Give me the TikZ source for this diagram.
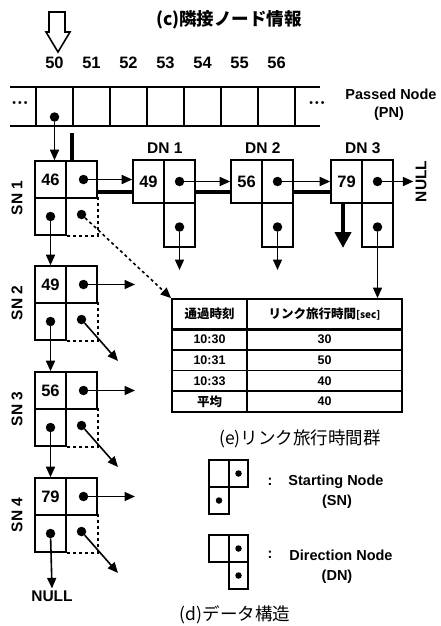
\documentclass[tikz,border=0pt]{standalone}
\usepackage{fontspec}
\setmainfont{Liberation Sans}
\newfontfamily\jpfont{Noto Sans CJK JP}
\usetikzlibrary{arrows.meta,positioning,calc}
\newcommand\lblfont{\fontsize{15.5}{17}\selectfont\bfseries}
\newcommand\numfont{\fontsize{16.5}{18}\selectfont\bfseries}
\newcommand\legfont{\fontsize{14.5}{16}\selectfont\bfseries}
\newcommand\tabfont{\fontsize{12.5}{14}\selectfont\bfseries}
\newcommand\capfont{\fontsize{17.5}{19}\selectfont\jpfont}
\tikzset{
  snbox/.style={draw, line width=1.6pt, minimum width=31pt, minimum height=37pt,
                inner sep=0pt, font=\numfont},
  dnbox/.style={snbox, minimum height=43.5pt},
  pncell/.style={draw, line width=1.6pt, minimum width=37pt, minimum height=39pt, inner sep=0pt},
  tcell/.style={draw, line width=1.8pt, inner sep=0pt, font=\tabfont},
  lgcell/.style={draw, line width=1.6pt, minimum width=19.5pt, minimum height=27pt, inner sep=0pt},
  ptr/.style={circle, fill, inner sep=0pt, minimum size=9.5pt},
  lgptr/.style={ptr, minimum size=6.5pt},
  lbl/.style={font=\lblfont, inner sep=2pt},
  arr/.style={-{Triangle[length=10.5pt,width=9pt]}, line width=1.6pt},
  thickbar/.style={line width=4pt},
  bigarr/.style={-{Triangle[length=16pt,width=16pt]}, line width=4.5pt},
}
\begin{document}
\begin{tikzpicture}[x=1pt,y=-1pt]
  \useasboundingbox (0,0) rectangle (440,626);
  % (c) adjacent node information
  \node[font=\capfont\bfseries] (ctitle) at (229,20) {(c)隣接ノード情報};
  \draw[line width=1.6pt] (49,12) -- (65,12) -- (65,32) -- (70,32) -- (58,52)
    -- (46,32) -- (49,32) -- cycle;
  % Passed Node array
  \draw[line width=1.6pt] (10,87) -- (320,87) (10,126) -- (320,126);
  \foreach \i/\pnlabel in {0/50,1/51,2/52,3/53,4/54,5/55,6/56} {
    \node[pncell] (pn\i) at (54.5+37*\i,106.5) {};
    \node[font=\numfont, above=14pt of pn\i] (pnnum\i) {\pnlabel};
  }
  \node[ptr] (pn0dot) at ([yshift=-10.5pt]pn0.center) {};
  \node[font=\fontsize{10.5}{10}\selectfont] (ldots) at (20,104)
    {\textbullet\hspace{2pt}\textbullet\hspace{2pt}\textbullet};
  \node[font=\fontsize{10.5}{10}\selectfont] (rdots) at (317,104)
    {\textbullet\hspace{2pt}\textbullet\hspace{2pt}\textbullet};
  \node[font=\legfont] (pnname) at (391,94) {Passed Node};
  \node[font=\legfont] (pnabbr) at (389,114) {(PN)};
  % Starting Nodes
  \foreach \idx/\ytop/\val in {1/161/46,2/266/49,3/372/56,4/478/79} {
    \node[snbox] (sn\idx-a) at (50.5,\ytop+18.5) {\val};
    \node[snbox] (sn\idx-b) at (81.5,\ytop+18.5) {};
    \node[snbox] (sn\idx-c) at (50.5,\ytop+55.5) {};
    \node[snbox, draw=none] (sn\idx-d) at (81.5,\ytop+55.5) {};
    \draw[dashed, line width=1.6pt] (sn\idx-d.north east) -- (sn\idx-d.south east)
      -- (sn\idx-d.south west);
    \node[ptr] (sn\idx-bp) at ([xshift=2pt]sn\idx-b.center) {};
    \node[ptr] (sn\idx-cp) at (sn\idx-c) {};
    \node[ptr] (sn\idx-dp) at ([yshift=2pt]sn\idx-d.center) {};
    \node[lbl, rotate=90] (sn\idx-name) at (17,\ytop+37) {SN \idx};
  }
  \foreach \a/\b in {1/2,2/3,3/4} \draw[arr] (sn\a-cp) -- (sn\b-a.north);
  \foreach \idx/\ytop in {2/266,3/372,4/478} {
    \coordinate (sn\idx-east) at (135,\ytop+18.5);
    \coordinate (sn\idx-diag) at (118,\ytop+95);
    \draw[arr] (sn\idx-bp) -- (sn\idx-east);
    \draw[arr] (sn\idx-dp) -- (sn\idx-diag);
  }
  \node[lbl] (snnull) at (52,596) {NULL};
  \draw[arr] (sn4-cp) -- (snnull.north);
  % link from PN
  \coordinate (pnbar) at (72,133);
  \draw[thickbar] (pnbar) -- (pnbar |- sn1-a.north);
  \draw[arr] (pn0dot) -- (pn0dot |- sn1-a.north);
  % Direction Nodes
  \foreach \idx/\xl/\val in {1/148.5/49,2/246.5/56,3/346.5/79} {
    \node[dnbox] (dn\idx-a) at (\xl,181.5) {\val};
    \node[dnbox] (dn\idx-b) at (\xl+31,181.5) {};
    \node[dnbox] (dn\idx-c) at (\xl+31,225) {};
    \node[ptr] (dn\idx-bp) at (dn\idx-b) {};
    \node[ptr] (dn\idx-cp) at ([yshift=-2pt]dn\idx-c.center) {};
    \node[lbl, above=3pt of dn\idx-a.north east] (dn\idx-name) {DN \idx};
  }
  \draw[arr] (sn1-bp) -- (sn1-bp -| dn1-a.west);
  \draw[arr] (dn1-bp) -- (dn2-a.west);
  \draw[arr] (dn2-bp) -- (dn3-a.west);
  \node[lbl, rotate=90] (dnnull) at (421,181.5) {NULL};
  \draw[arr] (dn3-bp) -- (dnnull.north);
  \draw[thickbar] ([yshift=-12.5pt]sn1-b.east) -- ([yshift=-10.5pt]dn1-a.west);
  \draw[thickbar] ([yshift=-10.5pt]dn1-b.east) -- ([yshift=-10.5pt]dn2-a.west);
  \draw[thickbar] ([yshift=-10.5pt]dn2-b.east) -- ([yshift=-10.5pt]dn3-a.west);
  \coordinate (dn1-out) at (179.5,270);
  \coordinate (dn2-out) at (277.5,270);
  \draw[arr] (dn1-cp) -- (dn1-out);
  \draw[arr] (dn2-cp) -- (dn2-out);
  \coordinate (dn3-drop) at (343,248);
  \draw[bigarr] ([xshift=-3.5pt]dn3-a.south) -- (dn3-drop);
  % (e) link travel times
  \node[tcell, minimum width=75pt, minimum height=30pt, font=\tabfont\jpfont] (th1)
    at (209.5,314) {通過時刻};
  \node[tcell, minimum width=155pt, minimum height=30pt, font=\tabfont\jpfont] (th2)
    at (324.5,314) {リンク旅行時間{\fontsize{10}{11}\selectfont[sec]}};
  \foreach \tm/\sec [count=\k from 0] in {10:30/30,10:31/50,10:33/40,\jpfont 平均/40} {
    \node[tcell, minimum width=75pt, minimum height=20.75pt] (tr\k-1)
      at (209.5,339.4+20.75*\k) {\tm};
    \node[tcell, minimum width=155pt, minimum height=20.75pt] (tr\k-2)
      at (324.5,339.4+20.75*\k) {\sec};
  }
  \draw[line width=2.8pt] (th1.south west) -- (th2.south east);
  \draw[arr, dashed] (sn1-dp) -- (th1.north west);
  \draw[arr] (dn3-cp) -- (dn3-cp |- th2.north);
  \node[font=\capfont] (ecap) at (300,439) {(e)リンク旅行時間群};
  % legend
  \node[lgcell] (lgs-a) at (219,473.5) {};
  \node[lgcell] (lgs-b) at (238.5,473.5) {};
  \node[lgcell] (lgs-c) at (219,500.5) {};
  \node[lgptr] (lgs-bp) at (lgs-b) {};
  \node[lgptr] (lgs-cp) at (lgs-c) {};
  \node[font=\legfont] (lgs-colon) at (270,482) {:};
  \node[font=\legfont] (lgs-name) at (336,482) {Starting Node};
  \node[font=\legfont] (lgs-abbr) at (337,502) {(SN)};
  \node[lgcell] (lgd-a) at (219,548.5) {};
  \node[lgcell] (lgd-b) at (238.5,548.5) {};
  \node[lgcell] (lgd-d) at (238.5,575.5) {};
  \node[lgptr] (lgd-bp) at (lgd-b) {};
  \node[lgptr] (lgd-dp) at (lgd-d) {};
  \node[font=\legfont] (lgd-colon) at (270,555) {:};
  \node[font=\legfont] (lgd-name) at (341,555) {Direction Node};
  \node[font=\legfont] (lgd-abbr) at (337,577) {(DN)};
  % (d) data structure
  \node[font=\capfont] (dcap) at (235,615) {(d)データ構造};
\end{tikzpicture}
\end{document}
